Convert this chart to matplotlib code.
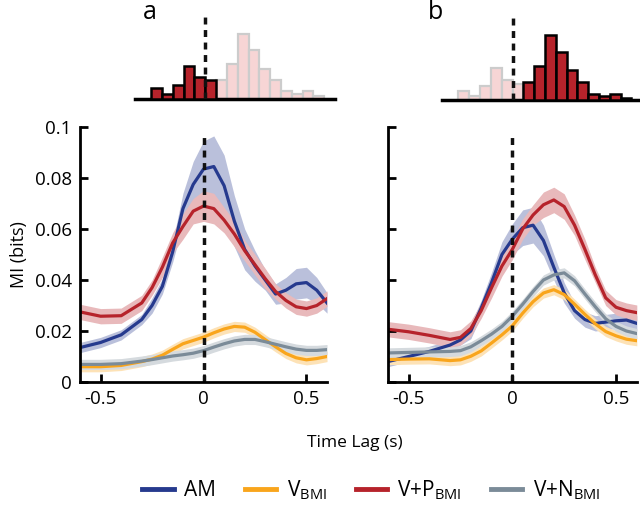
import matplotlib
matplotlib.use("Agg")
import matplotlib.pyplot as plt
import matplotlib.colors as mcolors
import numpy as np

plt.rcParams['font.family'] = ['Open Sans', 'DejaVu Sans']
plt.rcParams['mathtext.fontset'] = 'custom'
plt.rcParams['mathtext.rm'] = 'Open Sans'
plt.rcParams['mathtext.default'] = 'regular'

# time lag grid (s)
lag = [-0.6, -0.5, -0.4, -0.3, -0.25, -0.2, -0.15, -0.1, -0.05, 0, 0.05, 0.1,
       0.15, 0.2, 0.25, 0.3, 0.35, 0.4, 0.45, 0.5, 0.55, 0.6]

# panel a
am_a = [0.0135, 0.0155, 0.0185, 0.0245, 0.030, 0.0375, 0.051, 0.068, 0.0775, 0.0835, 0.0845,
        0.077, 0.063, 0.052, 0.0455, 0.040, 0.0345, 0.036, 0.0385, 0.039, 0.036, 0.031]
am_a_sem = [0.002, 0.002, 0.002, 0.002, 0.003, 0.003, 0.004, 0.006, 0.009, 0.011, 0.012,
            0.012, 0.010, 0.008, 0.006, 0.004, 0.004, 0.005, 0.006, 0.006, 0.005, 0.004]
vbmi_a = [0.006, 0.006, 0.0065, 0.008, 0.009, 0.0105, 0.0128, 0.015, 0.0163, 0.0176, 0.0193,
          0.0208, 0.0218, 0.0215, 0.0195, 0.0166, 0.0138, 0.0112, 0.0095, 0.0087, 0.0092, 0.0100]
vp_a = [0.0275, 0.0258, 0.026, 0.031, 0.037, 0.045, 0.0545, 0.061, 0.067, 0.069, 0.068,
        0.0635, 0.058, 0.0515, 0.046, 0.0405, 0.0355, 0.032, 0.0295, 0.0288, 0.030, 0.0327]
vp_a_sem = [0.003, 0.003, 0.003, 0.003, 0.003, 0.004, 0.004, 0.005, 0.005, 0.006, 0.006,
            0.005, 0.005, 0.004, 0.004, 0.004, 0.003, 0.003, 0.003, 0.003, 0.003, 0.003]
vn_a = [0.0069, 0.0069, 0.0072, 0.0082, 0.0088, 0.0095, 0.0102, 0.0107, 0.0113, 0.0123, 0.0137,
        0.015, 0.0161, 0.0167, 0.0167, 0.0158, 0.0148, 0.0138, 0.0129, 0.0124, 0.0124, 0.0127]

# panel b
am_b = [0.008, 0.010, 0.012, 0.0145, 0.0165, 0.020, 0.029, 0.039, 0.050, 0.056, 0.0605,
        0.0615, 0.0555, 0.045, 0.035, 0.028, 0.0245, 0.023, 0.0235, 0.024, 0.0243, 0.023]
am_b_sem = [0.002, 0.002, 0.002, 0.002, 0.002, 0.003, 0.003, 0.004, 0.005, 0.006, 0.007,
            0.007, 0.006, 0.005, 0.004, 0.003, 0.003, 0.003, 0.003, 0.003, 0.003, 0.003]
vbmi_b = [0.0088, 0.009, 0.0091, 0.0084, 0.0087, 0.0101, 0.0122, 0.0153, 0.0185, 0.022, 0.027,
          0.0315, 0.0349, 0.0362, 0.0343, 0.0305, 0.0265, 0.0228, 0.0198, 0.0181, 0.0168, 0.0162]
vp_b = [0.0207, 0.0197, 0.0183, 0.0167, 0.0175, 0.021, 0.028, 0.037, 0.0455, 0.052, 0.060,
        0.0655, 0.0695, 0.0714, 0.0688, 0.0615, 0.052, 0.042, 0.033, 0.0293, 0.028, 0.0272]
vp_b_sem = [0.003, 0.003, 0.003, 0.003, 0.003, 0.003, 0.003, 0.004, 0.004, 0.004, 0.004,
            0.004, 0.005, 0.005, 0.005, 0.004, 0.004, 0.003, 0.003, 0.003, 0.003, 0.003]
vn_b = [0.0114, 0.0116, 0.0118, 0.012, 0.0123, 0.0138, 0.0162, 0.0188, 0.0218, 0.0258, 0.0305,
        0.0355, 0.040, 0.042, 0.0428, 0.0397, 0.0345, 0.0295, 0.0248, 0.0218, 0.0200, 0.019]

small_sem = 0.002

# histograms (bin index relative to zero lag, counts)
hist_a_bins = [-5, -4, -3, -2, -1, 0, 1, 2, 3, 4, 5, 6, 7, 8, 9, 10]
hist_a_counts = [4, 2, 5, 12, 8, 7, 7, 13, 24, 18, 11, 7, 3, 2, 3, 1]
hist_a_dark = [1, 1, 1, 1, 1, 1, 0, 0, 0, 0, 0, 0, 0, 0, 0, 0]
hist_b_bins = [-5, -4, -3, -2, -1, 0, 1, 2, 3, 4, 5, 6, 7, 8, 9, 10]
hist_b_counts = [3.4, 1.5, 5.2, 11.8, 7.5, 5.9, 6.8, 12.5, 23.8, 17.5, 10.9, 6.8, 2.4, 1.5, 2.4, 0.9]
hist_b_dark = [0, 0, 0, 0, 0, 0, 1, 1, 1, 1, 1, 1, 1, 1, 1, 1]

c_am = '#263a8e'
c_v = '#f9a51c'
c_vp = '#b6232b'
c_vn = '#7b8b98'

fig = plt.figure(figsize=(6.4, 5.08), dpi=100)


def pale(col, k=0.32):
    # solid pale version of a colour, so the bands cover whatever lies below
    rgb = np.array(mcolors.to_rgb(col))
    return tuple(k * rgb + (1 - k))


def draw_panel(ax, series):
    for y, sem, col in series:
        y = np.array(y)
        sem = np.array(sem)
        ax.fill_between(lag, y - sem, y + sem, color=pale(col), lw=0)
        ax.plot(lag, y, color=col, lw=2.3)
    ax.plot([0, 0], [0, 0.098], color='#111111', lw=2.5, ls=(0, (2, 1.6)))
    ax.set_xlim(-0.6, 0.6)
    ax.set_ylim(0, 0.1)
    ax.spines['top'].set_visible(False)
    ax.spines['right'].set_visible(False)
    for s in ['left', 'bottom']:
        ax.spines[s].set_linewidth(2)
    ax.tick_params(direction='in', length=6, width=2, labelsize=13.5, pad=6)
    ax.set_xticks([-0.5, 0, 0.5])
    ax.set_xticklabels(['-0.5', '0', '0.5'])
    ax.set_yticks([0, 0.02, 0.04, 0.06, 0.08, 0.1])


def draw_hist(ax, bins, counts, dark):
    for b, c, d in zip(bins, counts, dark):
        if d:
            ax.bar(b + 0.5, c, width=1, color=c_vp, edgecolor='black', lw=1.8, zorder=3)
        else:
            ax.bar(b + 0.5, c, width=1, color='#f7d5d5', edgecolor='#cccccc', lw=1.6, zorder=2)
    ax.plot([0, 0], [0, 30], color='#111111', lw=2.5, ls=(0, (2, 1.6)), zorder=4)
    ax.set_xlim(-6.5, 12)
    ax.set_ylim(0, 30)
    for s in ['top', 'right', 'left']:
        ax.spines[s].set_visible(False)
    ax.spines['bottom'].set_linewidth(2.5)
    ax.set_xticks([])
    ax.set_yticks([])
    ax.patch.set_alpha(0)


ax_a = fig.add_axes([0.125, 0.248, 0.386, 0.502])
draw_panel(ax_a, [(am_a, am_a_sem, c_am), (vbmi_a, [small_sem] * len(lag), c_v),
                  (vn_a, [small_sem] * len(lag), c_vn), (vp_a, vp_a_sem, c_vp)])
ax_a.set_yticklabels(['0', '0.02', '0.04', '0.06', '0.08', '0.1'])
ax_a.set_ylabel('MI (bits)', fontsize=13, labelpad=5)

ax_b = fig.add_axes([0.606, 0.248, 0.389, 0.502])
draw_panel(ax_b, [(am_b, am_b_sem, c_am), (vbmi_b, [small_sem] * len(lag), c_v),
                  (vn_b, [small_sem] * len(lag), c_vn), (vp_b, vp_b_sem, c_vp)])
ax_b.set_yticklabels([])

hx_a = fig.add_axes([0.211, 0.805, 0.3125, 0.161])
draw_hist(hx_a, hist_a_bins, hist_a_counts, hist_a_dark)
hx_b = fig.add_axes([0.691, 0.803, 0.3125, 0.161])
draw_hist(hx_b, hist_b_bins, hist_b_counts, hist_b_dark)

fig.text(0.555, 0.127, 'Time Lag (s)', fontsize=12.5, ha='center', va='center')
fig.text(0.234, 0.975, 'a', fontsize=18, ha='center', va='center')
fig.text(0.68, 0.975, 'b', fontsize=18, ha='center', va='center')

handles = [plt.Line2D([], [], color=c, lw=3.5) for c in [c_am, c_v, c_vp, c_vn]]
labels = ['AM', 'V$_{BMI}$', 'V+P$_{BMI}$', 'V+N$_{BMI}$']
fig.legend(handles, labels, loc='center', bbox_to_anchor=(0.58, 0.035), ncol=4,
           frameon=False, fontsize=15, handlelength=1.5, columnspacing=1.4, handletextpad=0.5)

fig.savefig('out.png', dpi=100)
